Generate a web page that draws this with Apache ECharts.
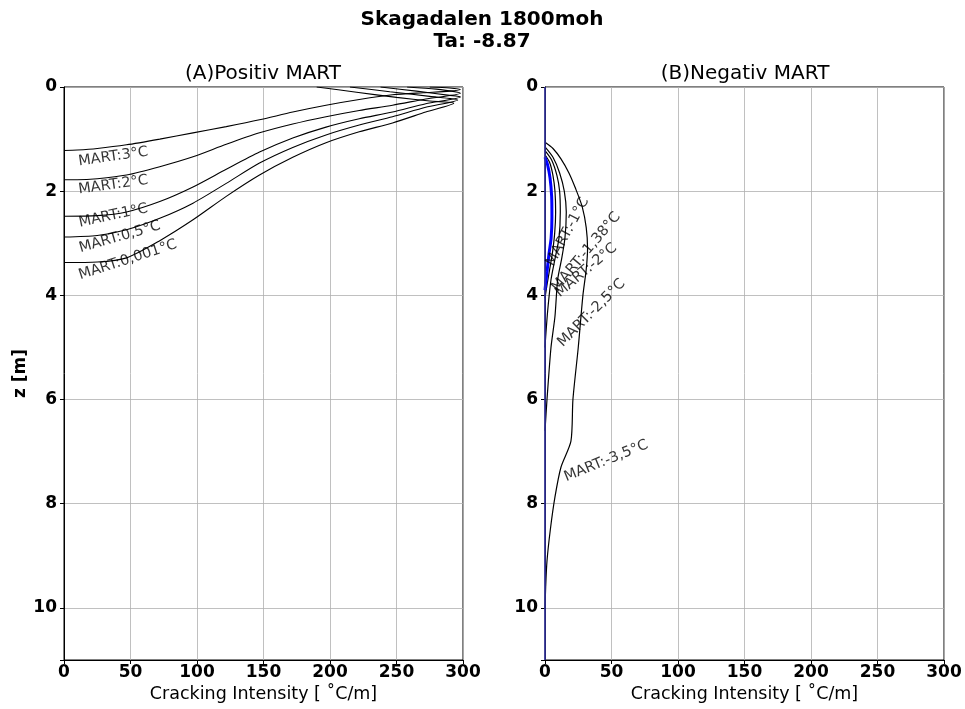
<!DOCTYPE html>
<html>
<head>
<meta charset="utf-8">
<script src="https://cdn.jsdelivr.net/npm/echarts@6/dist/echarts.min.js"></script>
<style>html,body{margin:0;padding:0;background:#fff}#c{width:965px;height:709px}</style>
</head>
<body>
<div id="c"></div>
<script>
// ---- data: [cracking intensity (°C/m), depth z (m)] ----
const xTicks = [0, 50, 100, 150, 200, 250, 300];
const zTicks = [0, 2, 4, 6, 8, 10];

const posNames = ['MART:3°C', 'MART:2°C', 'MART:1°C', 'MART:0,5°C', 'MART:0,001°C'];
const pos3 = [[275,0],[290,0.02],[298,0.05],[290,0.08],[270,0.11],[247,0.15],[222,0.24],[197,0.35],[172,0.48],[147,0.63],[122,0.76],[97,0.88],[72,1.0],[47,1.11],[25,1.18],[10,1.21],[0,1.22]];
const pos2 = [[258,0],[280,0.04],[296,0.1],[298,0.12],[272,0.23],[247,0.35],[222,0.45],[197,0.57],[172,0.71],[147,0.88],[122,1.1],[97,1.34],[72,1.53],[47,1.69],[25,1.76],[10,1.78],[0,1.78]];
const pos1 = [[238,0],[265,0.08],[290,0.16],[298,0.19],[272,0.32],[247,0.48],[222,0.61],[197,0.77],[172,0.98],[147,1.25],[122,1.58],[97,1.92],[72,2.2],[47,2.4],[25,2.47],[0,2.48]];
const pos05 = [[215,0],[245,0.09],[275,0.18],[296,0.25],[272,0.39],[247,0.57],[222,0.73],[197,0.92],[172,1.16],[147,1.46],[122,1.85],[97,2.23],[72,2.52],[47,2.74],[25,2.85],[0,2.88]];
const pos0001 = [[190,0],[220,0.1],[250,0.2],[275,0.27],[293,0.31],[272,0.48],[247,0.69],[222,0.86],[197,1.07],[172,1.35],[147,1.69],[122,2.1],[97,2.55],[72,2.95],[47,3.28],[25,3.36],[0,3.37]];
const posLabelAt = [[37,1.34],[37,1.88],[37,2.47],[42,2.88],[48,3.32]];
const posLabelRot = [8, 8, 12, 16, 18];

const negNames = ['MART:-1°C', 'MART:-1,38°C', 'MART:-2°C', 'MART:-2,5°C', 'MART:-3,5°C'];
const negBlue = [[0,1.35],[2,1.5],[3.8,1.75],[5,2.1],[5.2,2.5],[4.6,2.9],[3,3.2],[1.5,3.55],[0.6,3.75],[0,3.9]];
const negA = [[0,1.3],[3.5,1.45],[6,1.7],[7.5,2.0],[8,2.4],[7.3,2.8],[5.5,3.2],[3.5,3.5],[1.5,3.8],[0,4.05]];
const negB = [[0,1.22],[5,1.4],[9,1.7],[11,2.0],[11.5,2.4],[10.5,2.9],[7.5,3.3],[4.5,3.7],[2,4.3],[0.5,4.8],[0,5.0]];
const negC = [[0,1.15],[6,1.35],[11,1.65],[14.5,2.0],[16,2.4],[15,2.9],[12.5,3.3],[9.5,3.7],[7.5,4.4],[4.5,5.0],[1.5,6.0],[0,6.6]];
const negD = [[0,1.06],[6,1.18],[12,1.38],[18,1.65],[23,1.95],[28,2.3],[31,2.7],[32,3.1],[31,3.5],[28.5,4.0],[25,5.0],[21,6.0],[19.5,6.8],[12,7.3],[7.5,7.87],[4,8.5],[1.5,9.1],[0.5,9.6],[0,10.0]];
const negZero = [[0,0],[0,11]];
const negLabelAt = [[17,2.78],[31,3.17],[31,3.52],[35,4.34],[46,7.18]];
const negLabelRot = [62, 50, 40, 45, 22];

const FONT = 'DejaVu Sans';

function xAx(gi) {
  return {
    gridIndex: gi, type: 'value', min: 0, max: 300, interval: 50,
    axisLine: {show: true, onZero: false, lineStyle: {color: '#000', width: 1}},
    axisTick: {show: true, length: 4, lineStyle: {color: '#000'}},
    axisLabel: {fontFamily: FONT, fontWeight: 'bold', fontSize: 17, color: '#000', margin: 4},
    splitLine: {show: true, lineStyle: {color: '#b0b0b0', width: 0.8}},
    name: 'Cracking Intensity [ ˚C/m]', nameLocation: 'middle', nameGap: 23,
    nameTextStyle: {fontFamily: FONT, fontSize: 17.5, color: '#000'}
  };
}
function yAx(gi, withName) {
  return {
    gridIndex: gi, type: 'value', min: 0, max: 11, interval: 2, inverse: true,
    axisLine: {show: true, onZero: false, lineStyle: {color: '#000', width: 1}},
    axisTick: {show: true, length: 4, lineStyle: {color: '#000'}},
    axisLabel: {fontFamily: FONT, fontWeight: 'bold', fontSize: 17, color: '#000', margin: 7,
      formatter: v => (zTicks.indexOf(v) >= 0 ? String(v) : '')},
    splitLine: {show: true, lineStyle: {color: '#b0b0b0', width: 0.8}},
    name: withName ? 'z [m]' : '', nameLocation: 'middle', nameGap: 34,
    nameTextStyle: {fontFamily: FONT, fontSize: 17, fontWeight: 'bold', color: '#000'}
  };
}
function curve(data, gi, color, width, z) {
  return {type: 'line', xAxisIndex: gi, yAxisIndex: gi, data: data, showSymbol: false,
    smooth: 0.25, lineStyle: {color: color, width: width}, z: z || 2, silent: true, animation: false};
}
function labels(gi, names, at, rot) {
  return {type: 'scatter', xAxisIndex: gi, yAxisIndex: gi, symbolSize: 0, silent: true, animation: false, z: 5,
    data: names.map((n, i) => ({value: at[i], label: {show: true, formatter: n, rotate: rot[i], position: 'inside',
      fontFamily: FONT, fontSize: 14.5, color: '#000', textBorderWidth: 0}}))};
}

const chart = echarts.init(document.getElementById('c'), null, {renderer: 'canvas'});
chart.setOption({
  animation: false,
  backgroundColor: '#fff',
  grid: [
    {left: 64, top: 87, width: 399, height: 573, show: true, borderColor: '#000', borderWidth: 1, backgroundColor: 'transparent'},
    {left: 545, top: 87, width: 399, height: 573, show: true, borderColor: '#000', borderWidth: 1, backgroundColor: 'transparent'}
  ],
  xAxis: [xAx(0), xAx(1)],
  yAxis: [yAx(0, true), yAx(1, false)],
  graphic: [
    {type: 'text', style: {text: 'Skagadalen 1800moh', x: 482, y: 20, textAlign: 'center', textVerticalAlign: 'middle', font: 'bold 20px "DejaVu Sans"', fill: '#000'}},
    {type: 'text', style: {text: 'Ta: -8.87', x: 482, y: 42, textAlign: 'center', textVerticalAlign: 'middle', font: 'bold 20px "DejaVu Sans"', fill: '#000'}},
    {type: 'text', style: {text: '(A)Positiv MART', x: 263, y: 74, textAlign: 'center', textVerticalAlign: 'middle', font: '20px "DejaVu Sans"', fill: '#000'}},
    {type: 'text', style: {text: '(B)Negativ MART', x: 745, y: 74, textAlign: 'center', textVerticalAlign: 'middle', font: '20px "DejaVu Sans"', fill: '#000'}}
  ],
  series: [
    curve(pos3, 0, '#000', 1.1), curve(pos2, 0, '#000', 1.1), curve(pos1, 0, '#000', 1.1),
    curve(pos05, 0, '#000', 1.1), curve(pos0001, 0, '#000', 1.1),
    labels(0, posNames, posLabelAt, posLabelRot),
    curve(negA, 1, '#000', 1.2), curve(negB, 1, '#000', 1.2), curve(negC, 1, '#000', 1.2), curve(negD, 1, '#000', 1.2),
    curve(negBlue, 1, '#0000ff', 3, 3),
    curve(negZero, 1, '#3535a8', 1.5, 4),
    labels(1, negNames, negLabelAt, negLabelRot)
  ]
});
</script>
</body>
</html>
